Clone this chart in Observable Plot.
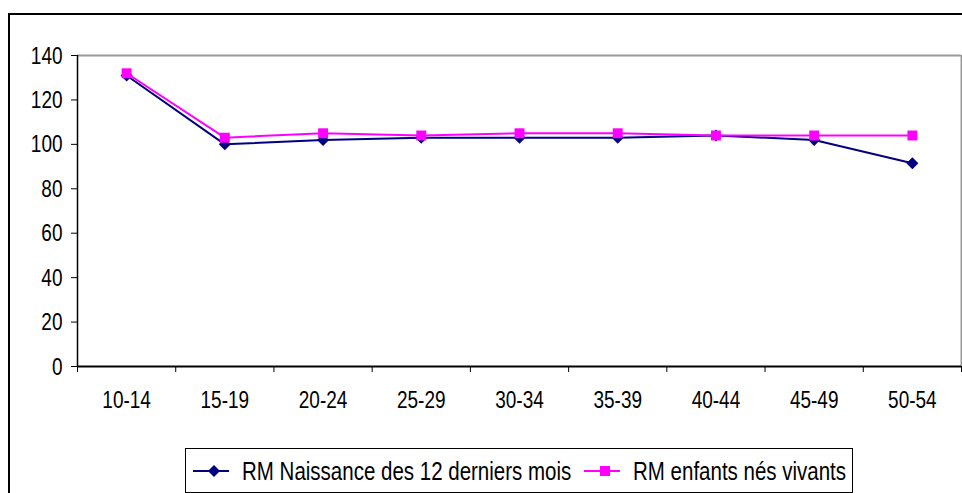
<!DOCTYPE html>
<html>
<head>
<meta charset="utf-8">
<script src="https://cdn.jsdelivr.net/npm/d3@7"></script>
<script src="https://cdn.jsdelivr.net/npm/@observablehq/plot@0.6"></script>
<style>
  html, body { margin: 0; padding: 0; background: #fff; overflow: hidden; }
  #wrap { position: relative; width: 962px; height: 493px; overflow: hidden; font-family: "Liberation Sans", Arial, sans-serif; }
  #chart { position: absolute; left: 0; top: 0; }
  #frame { position: absolute; left: 8px; top: 13px; width: 2000px; height: 2000px; border: 2px solid #000; pointer-events: none; }
  #legend { position: absolute; left: 185px; top: 448px; width: 666px; height: 43px; border: 1px solid #000; background: #fff; font-size: 20.5px; color: #000; }
  #legend .item { position: absolute; top: 0; height: 43px; display: flex; align-items: center; white-space: nowrap; }
  #legend .item span { display: inline-block; transform: scaleY(1.3); margin-left: 5px; }
  #legend svg { display: block; }
</style>
</head>
<body>
<div id="wrap">
  <div id="chart"></div>
  <div id="legend"></div>
  <div id="frame"></div>
</div>
<script>
const categories = ["10-14", "15-19", "20-24", "25-29", "30-34", "35-39", "40-44", "45-49", "50-54"];
const naissance12Mois = [131, 100, 102, 103, 103, 103, 104, 102, 91.5];
const enfantsNesVivants = [132, 103, 105, 104, 105, 105, 104, 104, 104];
const yTicks = [0, 20, 40, 60, 80, 100, 120, 140];
const seriesNames = ["RM Naissance des 12 derniers mois", "RM enfants nés vivants"];
const seriesColors = ["#000080", "#FF00FF"];

const rowsA = categories.map((c, i) => ({i, cat: c, v: naissance12Mois[i]}));
const rowsB = categories.map((c, i) => ({i, cat: c, v: enfantsNesVivants[i]}));
const boundaries = d3.range(-0.5, categories.length, 1);

const chart = Plot.plot({
  width: 962,
  height: 440,
  marginLeft: 77,
  marginRight: 1,
  marginTop: 55,
  marginBottom: 74,
  style: {background: "transparent", fontFamily: '"Liberation Sans", Arial, sans-serif', fontSize: "19px", color: "#000"},
  x: {type: "linear", domain: [-0.5, categories.length - 0.5], axis: null},
  y: {domain: [0, 140], axis: null},
  marks: [
    Plot.ruleY([140], {stroke: "#999", strokeWidth: 2}),
    Plot.ruleX([categories.length - 0.5], {stroke: "#999", strokeWidth: 2}),
    Plot.axisY({ticks: yTicks, tickSize: 6, tickPadding: 9, tickFormat: d => String(d), label: null, stroke: "#000", fontSize: 19}),
    Plot.axisX({ticks: boundaries, tickSize: 6, tickFormat: () => "", label: null, stroke: "#000"}),
    Plot.axisX({ticks: d3.range(categories.length), tickSize: 0, tickPadding: 26, tickFormat: i => categories[i], label: null, fontSize: 19}),
    Plot.ruleY([0], {stroke: "#000", strokeWidth: 2}),
    Plot.ruleX([-0.5], {stroke: "#000", strokeWidth: 1.5}),
    Plot.line(rowsA, {x: "i", y: "v", stroke: seriesColors[0], strokeWidth: 2}),
    Plot.dot(rowsA, {x: "i", y: "v", symbol: "diamond2", r: 5.4, fill: seriesColors[0], stroke: "none"}),
    Plot.line(rowsB, {x: "i", y: "v", stroke: seriesColors[1], strokeWidth: 2}),
    Plot.dot(rowsB, {x: "i", y: "v", symbol: "square", r: 5.6, fill: seriesColors[1], stroke: "none"})
  ]
});
document.getElementById("chart").appendChild(chart);

// Stretch tick text vertically (about its own centre) like the reference's tall glyphs
chart.querySelectorAll("text").forEach(t => {
  if (!t.textContent) return;
  const b = t.getBBox();
  const cy = b.y + b.height / 2;
  const tr = t.getAttribute("transform") || "";
  t.setAttribute("transform", `${tr} translate(0,${cy}) scale(1,1.3) translate(0,${-cy})`.trim());
});

// Legend
const legend = document.getElementById("legend");
const legendLefts = [7, 398];
const legendSymbols = ["diamond", "square"];
seriesNames.forEach((name, k) => {
  const item = document.createElement("div");
  item.className = "item";
  item.style.left = legendLefts[k] + "px";
  const c = seriesColors[k];
  const sym = legendSymbols[k] === "diamond"
    ? `<polygon points="21,16 27,22 21,28 15,22" fill="${c}"/>`
    : `<rect x="16" y="17" width="10" height="10" fill="${c}"/>`;
  item.innerHTML = `<svg width="44" height="43"><line x1="0" x2="36" y1="22" y2="22" stroke="${c}" stroke-width="2"/>${sym}</svg><span>${name}</span>`;
  legend.appendChild(item);
});
</script>
</body>
</html>
